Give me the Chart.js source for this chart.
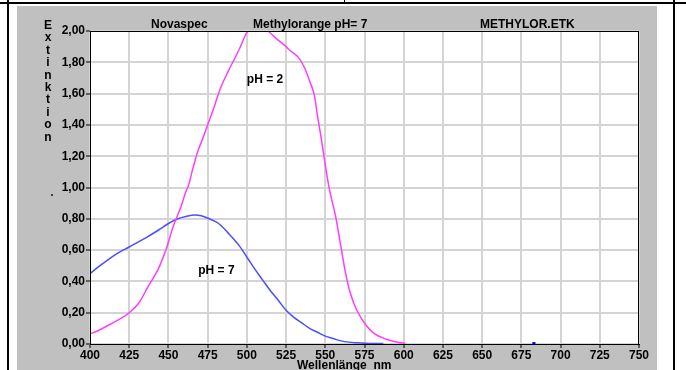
<!DOCTYPE html>
<html>
<head>
<meta charset="utf-8">
<script src="https://cdn.jsdelivr.net/npm/chart.js@4"></script>
<style>
  html, body { margin: 0; padding: 0; background: #fff; }
  canvas { display: block; }
</style>
</head>
<body>
<canvas id="spectrum" width="686" height="370"></canvas>
<script>
// Methylorange spectra
const ph2Wavelength = [400, 405, 410, 414, 420, 425, 431, 437, 444, 449, 453, 458, 461, 463, 465, 469, 471, 475, 479, 483, 488, 495, 500, 505, 509, 514, 519, 525, 527, 533, 537, 540, 543, 545, 547, 549, 551, 553, 556.5, 560, 563, 566, 570, 576, 581, 589, 596, 601];
const ph2Extinction = [0.064, 0.085, 0.11, 0.132, 0.165, 0.20, 0.26, 0.366, 0.49, 0.62, 0.75, 0.877, 0.97, 1.02, 1.10, 1.24, 1.29, 1.40, 1.51, 1.63, 1.74, 1.88, 1.99, 2.03, 2.03, 1.995, 1.95, 1.90, 1.88, 1.83, 1.76, 1.68, 1.59, 1.46, 1.34, 1.21, 1.08, 0.97, 0.82, 0.62, 0.45, 0.324, 0.217, 0.12, 0.068, 0.03, 0.011, 0.004];

const ph7Wavelength = [400, 407, 416, 425, 435, 444, 450, 456, 461, 467, 471, 476, 482, 488, 495, 501, 505, 510, 515, 520, 525, 530, 535, 540, 545, 550, 555, 560, 565, 570, 575, 587];
const ph7Extinction = [0.45, 0.505, 0.57, 0.62, 0.675, 0.73, 0.77, 0.80, 0.815, 0.825, 0.82, 0.80, 0.77, 0.71, 0.63, 0.54, 0.48, 0.41, 0.34, 0.28, 0.215, 0.17, 0.135, 0.10, 0.075, 0.05, 0.035, 0.02, 0.012, 0.008, 0.005, 0.003];

const strayWavelength = [682, 684];
const strayExtinction = [0.006, 0.006];

const xTickLabels = ['400', '425', '450', '475', '500', '525', '550', '575', '600', '625', '650', '675', '700', '725', '750'];
const yTickLabels = ['0,00', '0,20', '0,40', '0,60', '0,80', '1,00', '1,20', '1,40', '1,60', '1,80', '2,00'];

const headerTexts = ['Novaspec', 'Methylorange pH= 7', 'METHYLOR.ETK'];
const yTitle = 'Extinktion';
const xTitle = 'Wellenlänge  nm';
const curveLabels = [
  { text: 'pH = 2', x: 500, y: 1.69 },
  { text: 'pH = 7', x: 469, y: 0.47 }
];

const FAMILY = '"Liberation Sans", Arial, sans-serif';
const FONT = 'bold 12px ' + FAMILY;

function points(xs, ys) {
  return xs.map((x, i) => ({ x: x, y: ys[i] }));
}

const frame = {
  id: 'frame',
  beforeDraw(chart) {
    const ctx = chart.ctx;
    const a = chart.chartArea;
    ctx.save();
    ctx.fillStyle = '#fff';
    ctx.fillRect(0, 0, 686, 370);
    ctx.fillStyle = '#c0c0c0';
    ctx.fillRect(17, 6, 640, 364);
    ctx.fillStyle = '#fff';
    ctx.fillRect(a.left, a.top, a.right - a.left, a.bottom - a.top);
    // page table lines
    ctx.fillStyle = '#000';
    ctx.fillRect(0, 2, 686, 2);
    ctx.fillRect(7, 0, 2, 370);
    ctx.fillRect(673, 0, 2, 370);
    ctx.fillRect(344, 0, 1, 3);
    ctx.restore();
  },
  afterDraw(chart) {
    const ctx = chart.ctx;
    const a = chart.chartArea;
    const xs = chart.scales.x, ys = chart.scales.y;
    ctx.save();
    ctx.strokeStyle = '#000';
    ctx.lineWidth = 1;
    ctx.strokeRect(a.left + 0.5, a.top + 0.5, a.right - a.left - 1, a.bottom - a.top);

    ctx.fillStyle = '#000';
    ctx.font = FONT;
    ctx.textBaseline = 'alphabetic';
    ctx.textAlign = 'left';
    ctx.fillText(headerTexts[0], 151, 28);
    ctx.fillText(headerTexts[1], 253, 28);
    ctx.fillText(headerTexts[2], 480, 28);

    // stacked letters of the y title
    ctx.textAlign = 'center';
    yTitle.split('').forEach((ch, i) => {
      ctx.fillText(ch, 48, 29 + i * 12.4);
    });

    ctx.textAlign = 'left';
    ctx.textBaseline = 'top';
    ctx.fillText(xTitle, 297, 360);

    ctx.textBaseline = 'middle';
    curveLabels.forEach(l => {
      ctx.fillText(l.text, xs.getPixelForValue(l.x), ys.getPixelForValue(l.y));
    });

    ctx.fillStyle = '#404040';
    ctx.fillRect(51, 194, 2, 2);
    ctx.restore();
  }
};

new Chart(document.getElementById('spectrum'), {
  type: 'line',
  data: {
    datasets: [{
      label: 'pH = 2',
      data: points(ph2Wavelength, ph2Extinction),
      borderColor: '#ff3cff',
      borderWidth: 1.5,
      pointRadius: 0,
      cubicInterpolationMode: 'monotone'
    }, {
      label: 'pH = 7',
      data: points(ph7Wavelength, ph7Extinction),
      borderColor: '#4d4dff',
      borderWidth: 1.5,
      pointRadius: 0,
      cubicInterpolationMode: 'monotone'
    }, {
      label: 'stray',
      data: points(strayWavelength, strayExtinction),
      borderColor: '#0000ff',
      borderWidth: 2,
      pointRadius: 0
    }]
  },
  options: {
    responsive: false,
    animation: false,
    devicePixelRatio: 1,
    layout: { padding: { left: 0, top: 31, right: 47, bottom: 0 } },
    plugins: {
      legend: { display: false },
      title: { display: false },
      tooltip: { enabled: false }
    },
    scales: {
      x: {
        type: 'linear',
        min: 400,
        max: 750,
        afterFit: s => { s.height = 26; },
        afterBuildTicks: s => { s.ticks = xTickLabels.map(t => ({ value: Number(t) })); },
        ticks: {
          color: '#000',
          font: { family: FAMILY, size: 12, weight: 'bold' },
          padding: 0,
          maxRotation: 0,
          autoSkip: false,
          callback: (v, i) => xTickLabels[i]
        },
        grid: { color: '#d4d4d4', lineWidth: 2, tickColor: '#000', tickWidth: 1, tickLength: 4 },
        border: { color: '#000', width: 1 }
      },
      y: {
        min: 0,
        max: 2,
        afterFit: s => { s.width = 90; },
        ticks: {
          stepSize: 0.2,
          color: '#000',
          font: { family: FAMILY, size: 12, weight: 'bold' },
          padding: 1,
          callback: (v, i) => yTickLabels[i]
        },
        grid: { color: '#d4d4d4', lineWidth: 2, tickColor: '#000', tickWidth: 1, tickLength: 4 },
        border: { color: '#000', width: 1 }
      }
    }
  },
  plugins: [frame]
});
</script>
</body>
</html>
